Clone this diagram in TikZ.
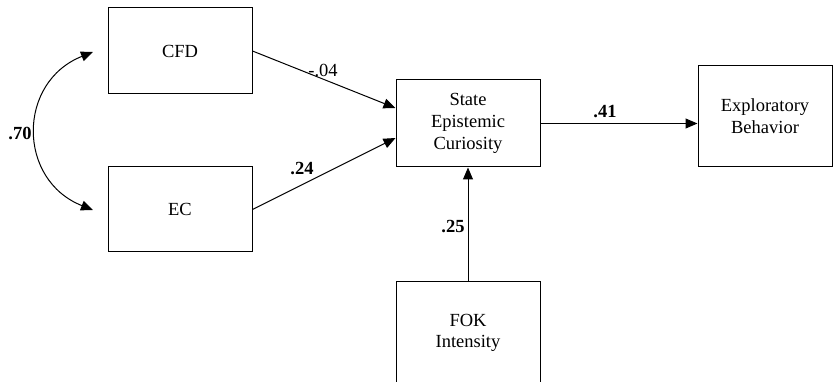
\documentclass[tikz,border=0pt]{standalone}
\usepackage{fontspec}
\setmainfont{Liberation Serif}
\usetikzlibrary{arrows.meta}
\begin{document}
\begin{tikzpicture}[x=1pt,y=-1pt, line width=1pt,
  box/.style={draw, minimum width=144pt, align=center, inner sep=0pt, font=\fontsize{18.5}{21.7}\selectfont},
  lab/.style={font=\fontsize{18.5}{20}\selectfont\bfseries, inner sep=0pt},
  plainlab/.style={font=\fontsize{18.5}{20}\selectfont, inner sep=0pt},
  arr/.style={-{Triangle[length=12pt,width=10pt]}},
  dblarr/.style={{Triangle[length=12pt,width=10pt]}-{Triangle[length=12pt,width=10pt]}}]
\useasboundingbox (0,0) rectangle (833,382);
\clip (0,0) rectangle (833,382);
\node[box, minimum height=86pt] (CFD) at (180,51) {CFD};
\node[box, minimum height=85pt] (EC) at (180,209.5) {EC};
\node[box, minimum height=87pt] (SEC) at (468,123.5) {State\\Epistemic\\Curiosity};
\node[box, minimum width=134pt, minimum height=101pt] (EB) at (765,116.5) {Exploratory\\Behavior};
\node[box, minimum height=102pt] (FOK) at (468,333) {FOK\\Intensity};
\coordinate (c1) at (93,52);
\coordinate (c2) at (93,210);
\draw[arr] (CFD.east) -- ([yshift=15.5pt]SEC.west);
\draw[arr] (EC.east) -- ([yshift=-14.5pt]SEC.west);
\draw[arr] (SEC.east) -- (SEC.east -| EB.west);
\draw[arr] (FOK.north) -- (SEC.south);
\draw[dblarr] (c1) .. controls (17,82) and (17,180) .. (c2);
\node[lab] (l70) at (20,133) {.70};
\node[plainlab] (l04) at (323,70) {-.04};
\node[lab] (l24) at (302,169) {.24};
\node[lab] (l41) at (605,112) {.41};
\node[lab] (l25) at (453,227) {.25};
\end{tikzpicture}
\end{document}
